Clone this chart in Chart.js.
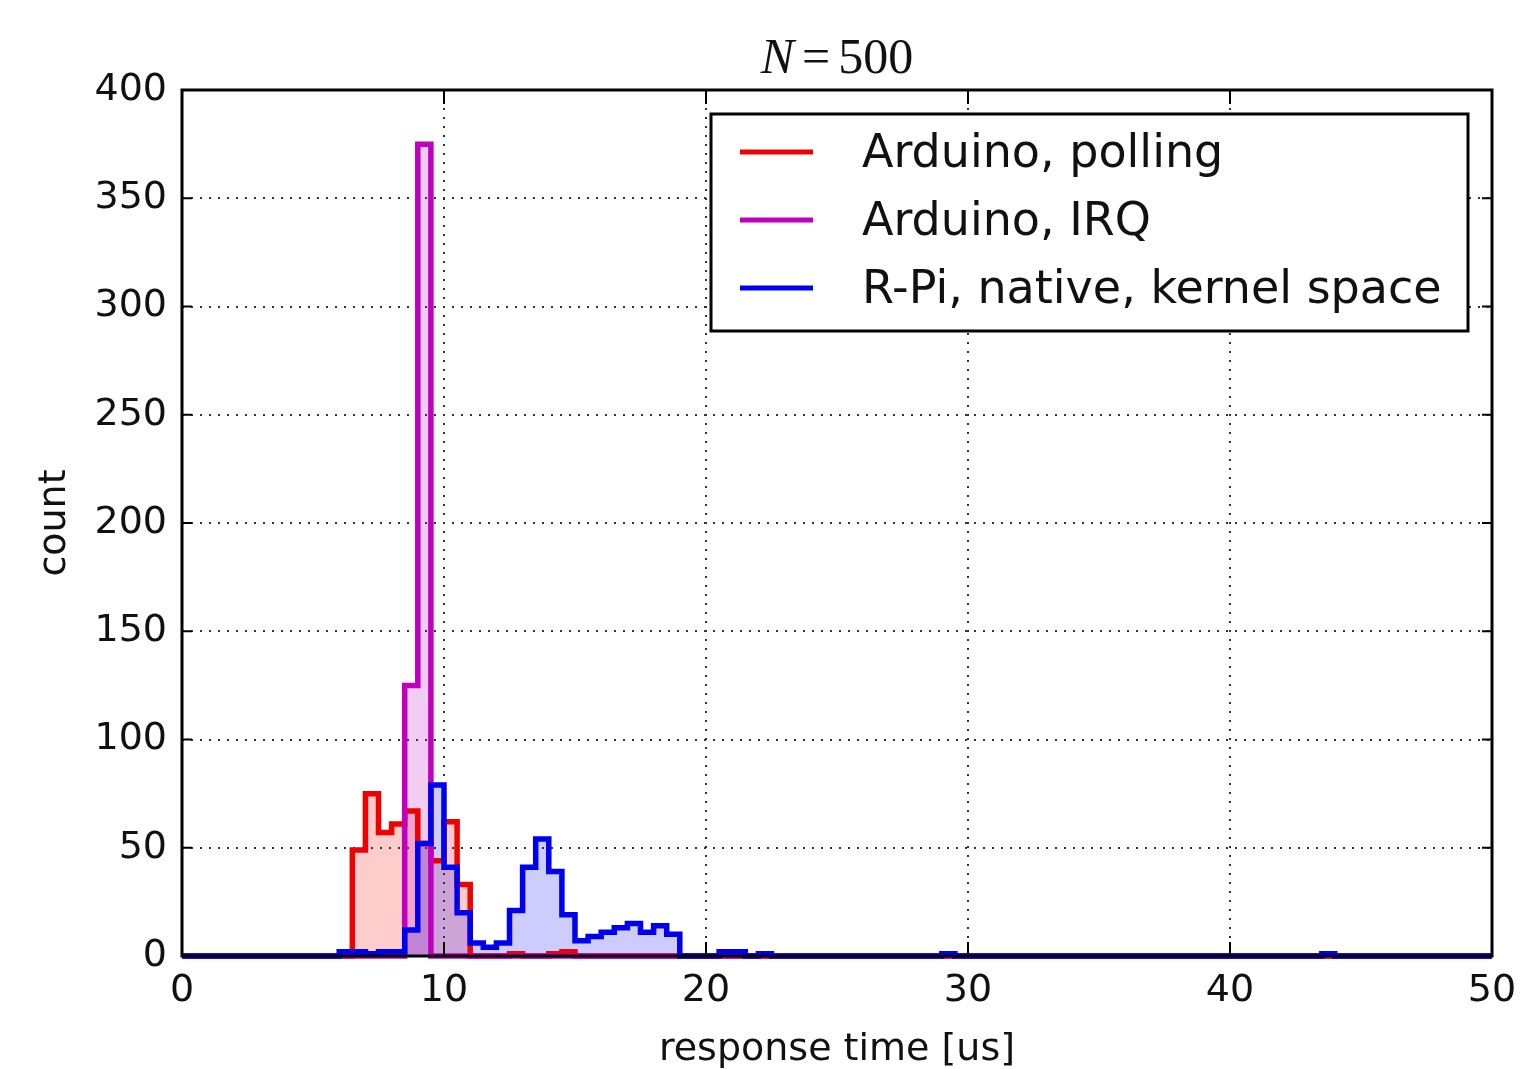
<!DOCTYPE html>
<html>
<head>
<meta charset="utf-8">
<script src="https://cdn.jsdelivr.net/npm/chart.js@4.4.1/dist/chart.umd.min.js"></script>
<style>
  html, body { margin: 0; padding: 0; background: #fff; }
  #wrap { width: 1520px; height: 1069px; position: relative; }
</style>
</head>
<body>
<div id="wrap"><canvas id="chart_responseTime"></canvas></div>
<script>
// histogram, 0.5 us bins; each series = left edge of first bin + counts
var binWidth = 0.5;
var xMin = 0, xMax = 50;
var xTicks = [0, 10, 20, 30, 40, 50];
var yTicks = [0, 50, 100, 150, 200, 250, 300, 350, 400];
var seriesLabels = ['Arduino, polling', 'Arduino, IRQ', 'R-Pi, native, kernel space'];
var titleText = ['N', '=', '500'];

var pollingStart = 6.5;
var pollingCounts = [49, 75, 57, 61, 67, 52, 44, 62, 33, 0, 0, 0, 1, 0, 0, 1, 2];

var irqStart = 8.5;
var irqCounts = [125, 375];

var rpiStart = 6.0;
var rpiCounts = [2, 2, 1, 2, 2, 12, 52, 79, 41, 20, 6, 4, 6, 21, 41, 54, 39, 19, 7, 9, 11, 13, 15, 11, 14, 10];
var rpiOutlierBins = [20.5, 21.0, 22.0, 29.0, 43.5];
var rpiOutlierCounts = [2, 2, 1, 1, 1];

function stepPoints(start, counts, extraBins, extraCounts) {
  var n = Math.round((xMax - xMin) / binWidth);
  var bins = new Array(n).fill(0);
  var first = Math.round((start - xMin) / binWidth);
  counts.forEach(function(c, i) { bins[first + i] = c; });
  (extraBins || []).forEach(function(b, i) {
    bins[Math.round((b - xMin) / binWidth)] = extraCounts[i];
  });
  var pts = bins.map(function(c, i) { return { x: xMin + i * binWidth, y: c }; });
  pts.push({ x: xMax, y: 0 });
  return pts;
}

var lineColors = ['#f00000', '#bf00bf', '#0000f0'];
var fillColors = ['rgba(255,0,0,0.2)', 'rgba(191,0,191,0.2)', 'rgba(0,0,255,0.2)'];
var textColor = '#111';

function histDataset(idx, pts, order) {
  return {
    label: seriesLabels[idx],
    data: pts,
    stepped: 'before',
    borderColor: lineColors[idx],
    backgroundColor: fillColors[idx],
    borderWidth: 5.5,
    borderJoinStyle: 'miter',
    fill: 'origin',
    pointRadius: 0,
    order: order,
    clip: 4
  };
}

var axesDecor = {
  id: 'axesDecor',
  afterDraw: function(chart) {
    var ctx = chart.ctx;
    var a = chart.chartArea;
    var xs = chart.scales.x, ys = chart.scales.y;
    ctx.save();
    // inward ticks
    ctx.strokeStyle = '#000';
    ctx.lineWidth = 2;
    ctx.beginPath();
    xTicks.forEach(function(v) {
      var px = xs.getPixelForValue(v);
      ctx.moveTo(px, a.bottom); ctx.lineTo(px, a.bottom - 14);
      ctx.moveTo(px, a.top); ctx.lineTo(px, a.top + 14);
    });
    yTicks.forEach(function(v) {
      var py = ys.getPixelForValue(v);
      ctx.moveTo(a.left, py); ctx.lineTo(a.left + 10, py);
      ctx.moveTo(a.right, py); ctx.lineTo(a.right - 10, py);
    });
    ctx.stroke();
    // frame
    ctx.lineWidth = 3;
    ctx.strokeRect(a.left, a.top, a.right - a.left, a.bottom - a.top);

    // legend box
    var lx = 711, ly = 114, lw = 757, lh = 217;
    ctx.fillStyle = '#fff';
    ctx.fillRect(lx, ly, lw, lh);
    ctx.strokeRect(lx, ly, lw, lh);
    ctx.font = '46px "DejaVu Sans"';
    ctx.textBaseline = 'alphabetic';
    ctx.textAlign = 'left';
    chart.data.datasets.forEach(function(ds, i) {
      var y = 152 + i * 68;
      ctx.strokeStyle = ds.borderColor;
      ctx.lineWidth = 5;
      ctx.beginPath();
      ctx.moveTo(740, y); ctx.lineTo(813, y);
      ctx.stroke();
      ctx.fillStyle = textColor;
      ctx.fillText(ds.label, 862, y + 15);
    });

    // title N=500 (mathtext look)
    var cx = (a.left + a.right) / 2;
    var fIt = 'italic 50px "Liberation Serif"';
    var fUp = '50px "Liberation Serif"';
    ctx.font = fIt; var w0 = ctx.measureText(titleText[0]).width;
    ctx.font = fUp; var w1 = ctx.measureText(titleText[1]).width;
    var w2 = ctx.measureText(titleText[2]).width;
    var gap = 8;
    var total = w0 + gap + w1 + gap + w2;
    var x0 = cx - total / 2;
    ctx.fillStyle = textColor;
    ctx.font = fIt; ctx.fillText(titleText[0], x0, 73);
    ctx.font = fUp; ctx.fillText(titleText[1], x0 + w0 + gap, 73);
    ctx.fillText(titleText[2], x0 + w0 + gap + w1 + gap, 73);
    ctx.restore();
  }
};

var chart_responseTime = new Chart(document.getElementById('chart_responseTime'), {
  type: 'line',
  data: {
    datasets: [
      histDataset(0, stepPoints(pollingStart, pollingCounts), 3),
      histDataset(1, stepPoints(irqStart, irqCounts), 2),
      histDataset(2, stepPoints(rpiStart, rpiCounts, rpiOutlierBins, rpiOutlierCounts), 1)
    ]
  },
  options: {
    animation: false,
    responsive: true,
    maintainAspectRatio: false,
    layout: { padding: { top: 90, right: 28, left: 0, bottom: 0 } },
    plugins: {
      legend: { display: false },
      tooltip: { enabled: false },
      filler: { drawTime: 'beforeDatasetsDraw' }
    },
    scales: {
      x: {
        type: 'linear',
        min: xMin,
        max: xMax,
        afterFit: function(scale) {
          scale.height = 113;
          scale.paddingLeft = 0;
          scale.paddingRight = 0;
        },
        afterBuildTicks: function(scale) { scale.ticks = xTicks.map(function(v) { return { value: v }; }); },
        ticks: { color: textColor, font: { family: 'DejaVu Sans', size: 38 }, padding: 12, maxRotation: 0 },
        grid: { color: '#333', lineWidth: 2, drawTicks: false },
        border: { display: false, dash: [2, 7] },
        title: {
          display: true,
          text: 'response time [us]',
          color: textColor,
          font: { family: 'DejaVu Sans', size: 38, lineHeight: 1.0 },
          padding: { top: 0, bottom: 0 }
        }
      },
      y: {
        type: 'linear',
        min: 0,
        max: 400,
        afterFit: function(scale) {
          scale.width = 182;
          scale.paddingTop = 0;
          scale.paddingBottom = 0;
        },
        afterBuildTicks: function(scale) { scale.ticks = yTicks.map(function(v) { return { value: v }; }); },
        ticks: { color: textColor, font: { family: 'DejaVu Sans', size: 38 }, padding: 15 },
        grid: { color: '#333', lineWidth: 2, drawTicks: false },
        border: { display: false, dash: [2, 7] },
        title: {
          display: true,
          text: 'count',
          color: textColor,
          font: { family: 'DejaVu Sans', size: 38 },
          padding: { top: 32, bottom: 0 }
        }
      }
    }
  },
  plugins: [axesDecor]
});
</script>
</body>
</html>
